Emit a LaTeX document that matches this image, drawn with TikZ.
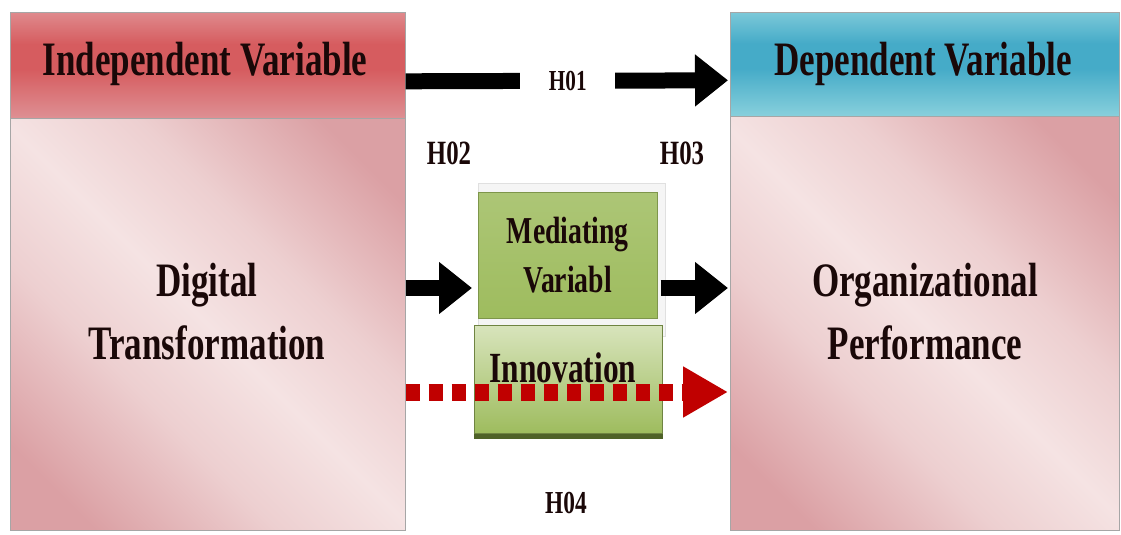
\documentclass[tikz,border=0pt]{standalone}
\usepackage{fontspec}
\setmainfont{Liberation Serif}[FakeStretch=0.73]
\usetikzlibrary{arrows.meta}
\definecolor{pinkL}{HTML}{F5E3E3}
\definecolor{pinkM}{HTML}{EDCFD0}
\definecolor{pinkD}{HTML}{DBA0A4}
\definecolor{redT}{HTML}{E2999C}
\definecolor{redM}{HTML}{D65C5F}
\definecolor{redB}{HTML}{DE9094}
\definecolor{cyanT}{HTML}{8ED2DE}
\definecolor{cyanM}{HTML}{45ABC8}
\definecolor{cyanB}{HTML}{88D0DC}
\definecolor{greenM}{HTML}{9EBC5E}
\definecolor{greenL}{HTML}{D8E4BC}
\definecolor{greenD}{HTML}{4F6228}
\definecolor{redA}{HTML}{C00000}
\definecolor{txt}{HTML}{1A0808}
\pgfdeclareverticalshading{hdrredsh}{100bp}{color(0bp)=(redB); color(25bp)=(redB); color(48bp)=(redM); color(60bp)=(redM); color(80bp)=(redT); color(100bp)=(redT)}
\pgfdeclareverticalshading{hdrcyansh}{100bp}{color(0bp)=(cyanB); color(25bp)=(cyanB); color(48bp)=(cyanM); color(60bp)=(cyanM); color(80bp)=(cyanT); color(100bp)=(cyanT)}
\pgfdeclarehorizontalshading{bodysh}{100bp}{color(0bp)=(pinkD); color(22bp)=(pinkD); color(38bp)=(pinkM); color(50bp)=(pinkL); color(62bp)=(pinkM); color(78bp)=(pinkD); color(100bp)=(pinkD)}
\begin{document}
\begin{tikzpicture}[x=1pt,y=-1pt,
  panel/.style={rectangle, inner sep=0pt, anchor=north west, draw=black!35, line width=0.6pt},
  hdrred/.style={panel, shading=hdrredsh},
  hdrcyan/.style={panel, shading=hdrcyansh},
  body/.style={panel, shading=bodysh, shading angle=45},
  bigtext/.style={font=\fontsize{48}{63}\selectfont\bfseries, text=txt, align=center, inner sep=0pt},
  hlabel/.style={font=\fontsize{29}{34}\selectfont\bfseries, text=txt, inner sep=0pt},
  hlabelbig/.style={font=\fontsize{34}{40}\selectfont\bfseries, text=txt, inner sep=0pt},
  bigarrow/.style={line width=16pt, black, -{Triangle[length=33pt,width=50pt]}},
  dotarrow/.style={line width=17pt, redA, dash pattern=on 14pt off 9pt, -{Triangle[length=45pt,width=48pt]}}
]
\useasboundingbox (0,0) rectangle (1121,535);
\fill[white] (0,0) rectangle (1121,535);

% panels
\node[body, minimum width=395pt, minimum height=412pt] (bodyL) at (10,118) {};
\node[hdrred, minimum width=395pt, minimum height=106pt] (hdrL) at (10,12) {};
\node[body, minimum width=389pt, minimum height=414pt] (bodyR) at (730,116) {};
\node[hdrcyan, minimum width=389pt, minimum height=104pt] (hdrR) at (730,12) {};

\node[bigtext, anchor=base] (tIV) at (205,75) {Independent Variable};
\node[bigtext, anchor=base] (tDV) at (923,75) {Dependent Variable};
\node[bigtext] (tDT) at (207,312) {Digital\\Transformation};
\node[bigtext] (tOP) at (925,312) {Organizational\\Performance};

% mediating and innovation boxes
\node[rectangle, anchor=north west, inner sep=0pt, minimum width=187pt, minimum height=153pt,
      fill=black!4, draw=black!12, line width=0.6pt] (medsh) at (478,183) {};
\node[rectangle, anchor=north west, inner sep=0pt, minimum width=179pt, minimum height=126pt,
      top color=greenM!85!white, bottom color=greenM, draw=greenM!80!black, line width=0.5pt,
      font=\fontsize{38}{49}\selectfont\bfseries, text=txt, align=center] (med) at (478,192)
      {Mediating\\Variabl};
\node[rectangle, anchor=north west, inner sep=0pt, minimum width=188pt, minimum height=108pt,
      top color=greenL, bottom color=greenM, draw=greenM!70!black, line width=0.5pt] (inn) at (474,325) {};
\fill[greenD] (inn.south west) rectangle ([yshift=-5pt]inn.south east);
\node[font=\fontsize{43}{50}\selectfont\bfseries, text=txt, inner sep=0pt, anchor=base] (tInn) at (563,382) {Innovation};

% labels
\node[hlabelbig] (h02) at (449,153) {H02};
\node[hlabelbig] (h03) at (682,153) {H03};
\node[hlabel, font=\fontsize{32}{38}\selectfont\bfseries] (h04) at (566,503) {H04};

% connectors
\coordinate (r1) at (440,288);
\coordinate (r2) at (440,392);
\draw[bigarrow, shorten >=2pt] ([yshift=-16pt]hdrL.east) -- ([yshift=-16pt]hdrR.west)
  node[midway, fill=white, inner sep=0pt, minimum width=95pt, minimum height=22pt, hlabel] (h01) {H01};
\draw[bigarrow, shorten >=6pt] (bodyL.east |- r1) -- (med.west |- r1);
\draw[bigarrow, shorten <=3pt, shorten >=2pt] (med.east |- r1) -- (bodyR.west |- r1);
\draw[dotarrow, shorten >=2pt] (bodyL.east |- r2) -- (bodyR.west |- r2);
\end{tikzpicture}
\end{document}
